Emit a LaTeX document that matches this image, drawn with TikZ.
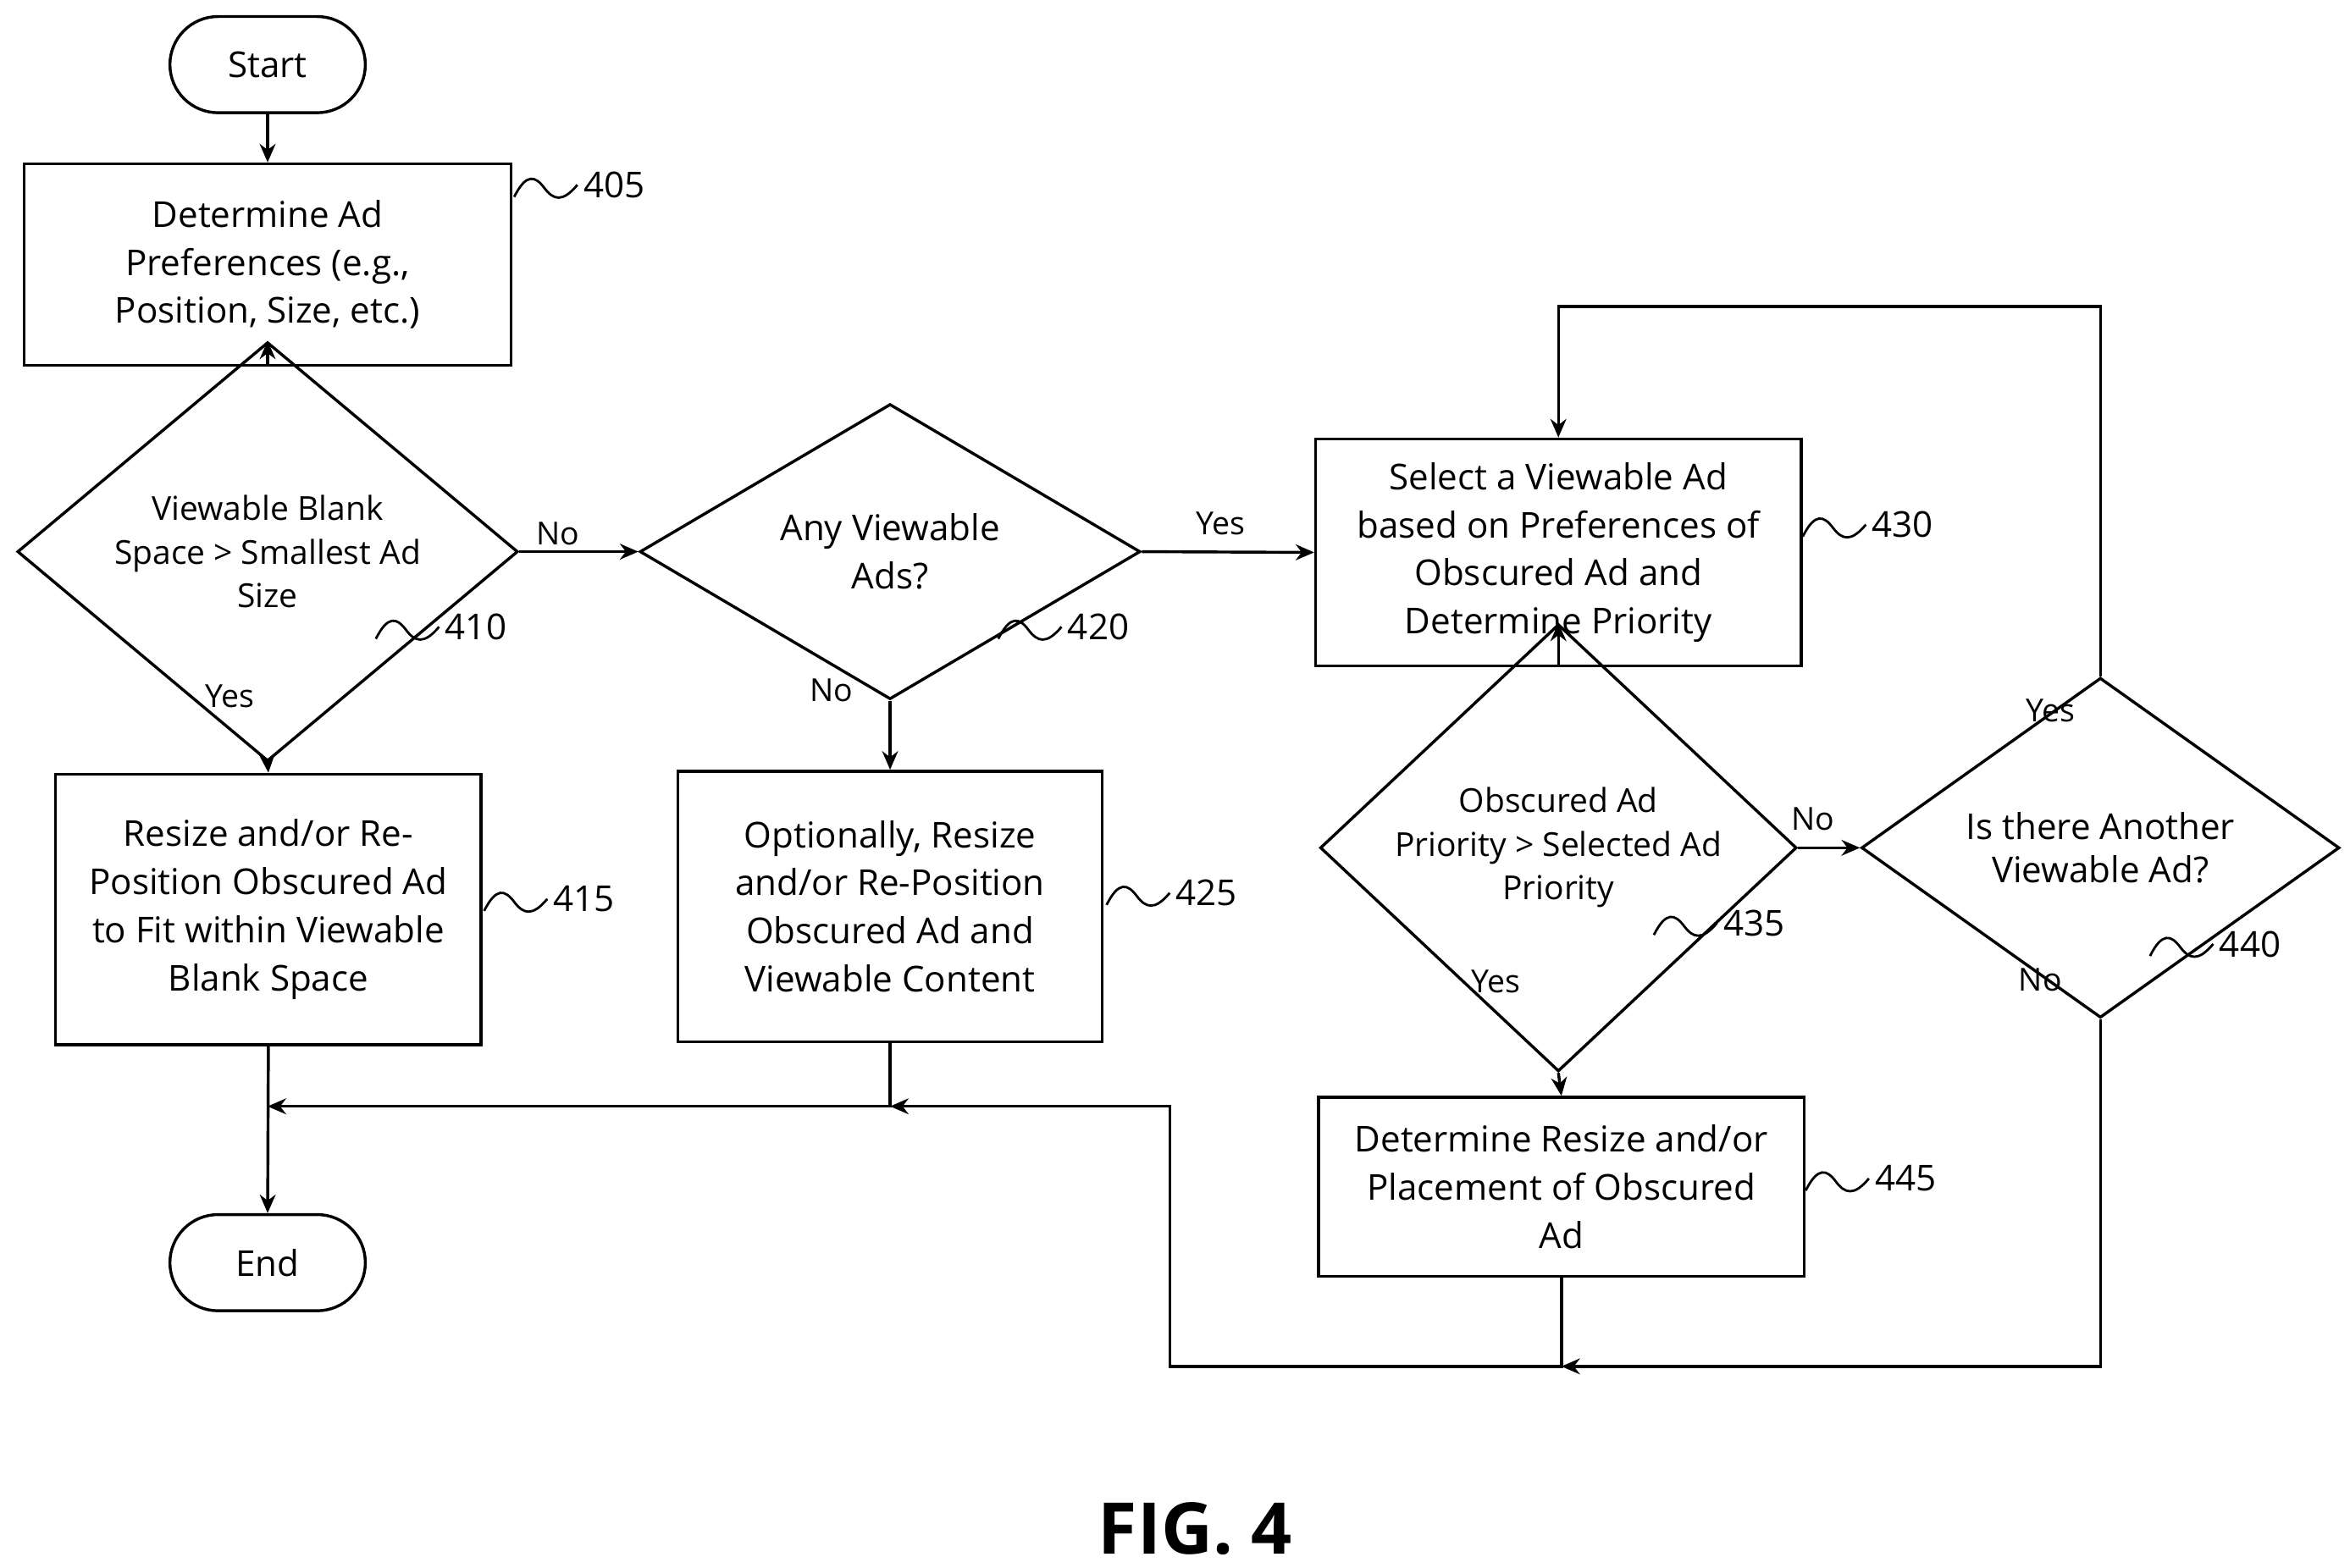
\documentclass[tikz,border=0pt]{standalone}
\usepackage{fontspec}
\setmainfont{Open Sans}
\usetikzlibrary{shapes.geometric,arrows.meta}
\begin{document}
\begin{tikzpicture}[x=0.02cm,y=-0.02cm,
  box/.style={draw,line width=1.1pt,inner sep=0pt,align=center,font=\fontsize{13.5}{18.2}\selectfont},
  dia/.style={draw,diamond,line width=1.1pt,inner sep=0pt,align=center,font=\fontsize{12.5}{16.5}\selectfont},
  term/.style={draw,rounded corners=0.64cm,line width=1.1pt,minimum width=2.6cm,minimum height=1.28cm,font=\fontsize{13.5}{18.2}\selectfont},
  arr/.style={line width=1.1pt,-{Stealth[length=7pt,width=6pt]}},
  ln/.style={line width=1.1pt},
  lab/.style={font=\fontsize{12}{14}\selectfont},
  rn/.style={font=\fontsize{13.5}{16}\selectfont,anchor=west}]
\useasboundingbox (0,0) rectangle (1563,1043);
\node[term] (s) at (178,43) {Start};
\node[box,minimum width=6.48cm,minimum height=2.68cm] (b405) at (178,176) {Determine Ad\\Preferences (e.g.,\\Position, Size, etc.)};
\node[dia,minimum width=6.66cm,minimum height=3.28cm] (d410) at (178,367) {Viewable Blank\\Space > Smallest Ad\\Size};
\node[box,minimum width=5.66cm,minimum height=3.6cm] (b415) at (178.5,605) {Resize and/or Re-\\Position Obscured Ad\\to Fit within Viewable\\Blank Space};
\node[dia,minimum width=6.66cm,minimum height=3.28cm,font=\fontsize{13.5}{18.2}\selectfont] (d420) at (592,367) {Any Viewable\\Ads?};
\node[box,minimum width=5.64cm,minimum height=3.6cm] (b425) at (592,603) {Optionally, Resize\\and/or Re-Position\\Obscured Ad and\\Viewable Content};
\node[box,minimum width=6.46cm,minimum height=3.02cm] (b430) at (1036.5,367.5) {Select a Viewable Ad\\based on Preferences of\\Obscured Ad and\\Determine Priority};
\node[dia,minimum width=6.34cm,minimum height=3.12cm] (d435) at (1036.5,564) {Obscured Ad\\Priority > Selected Ad\\Priority};
\node[dia,minimum width=6.36cm,minimum height=3.12cm,font=\fontsize{13.5}{16.5}\selectfont] (d440) at (1397,564) {Is there Another\\Viewable Ad?};
\node[box,minimum width=6.46cm,minimum height=2.38cm] (b445) at (1038.5,789.5) {Determine Resize and/or\\Placement of Obscured\\Ad};
\node[term] (e) at (178,840) {End};
\node[font=\bfseries\fontsize{27}{30}\selectfont] (fig) at (795,1017) {FIG. 4};
% connectors
\draw[arr] (s) -- (b405);
\draw[arr] (b405) -- (d410);
\draw[arr] (d410.east) -- (d420.west);
\draw[arr] (d410.south) -- (b415.north);
\draw[arr] (d420.south) -- (b425.north);
\draw[arr] (d420.east) -- (b430.west);
\draw[arr] (b430) -- (d435);
\draw[arr] (d435.south) -- (b445.north);
\draw[arr] (d435.east) -- (d440.west);
\draw[arr] (b415.south) -- (e.north);
\coordinate (j1) at (178,736);
\coordinate (j2) at (592,736);
\coordinate (j3) at (1038.5,909);
\draw[arr] (b425.south) -- (j2) -- (j1);
\draw[arr] (b445.south) -- (j3) -- (778,909) -- (778,736) -- (j2);
\draw[arr] (d440.south) -- (1397,909) -- (j3);
\draw[arr] (d440.north) -- (1397,204) -- (1036.5,204) -- (b430.north);
% labels
\node[lab] at (371,355) {No};
\node[lab] at (812,348) {Yes};
\node[lab] at (153,463) {Yes};
\node[lab] at (553,459) {No};
\node[lab] at (1206,545) {No};
\node[lab] at (995,653) {Yes};
\node[lab] at (1364,473) {Yes};
\node[lab] at (1357,652) {No};
% reference numerals
\foreach \x/\y/\n in {342/131/405, 250/425/410, 322/606/415, 664/425/420, 736/602/425, 1199/357/430, 1100/622/435, 1430/636/440, 1201/792/445}{
  \draw[line width=0.9pt] (\x,\y) .. controls (\x+8,\y-16) and (\x+14,\y-14) .. (\x+20,\y-6) .. controls (\x+26,\y+2) and (\x+32,\y+4) .. (\x+42,\y-8);
  \node[rn] at (\x+40,\y-8) {\n};
}
\end{tikzpicture}
\end{document}
